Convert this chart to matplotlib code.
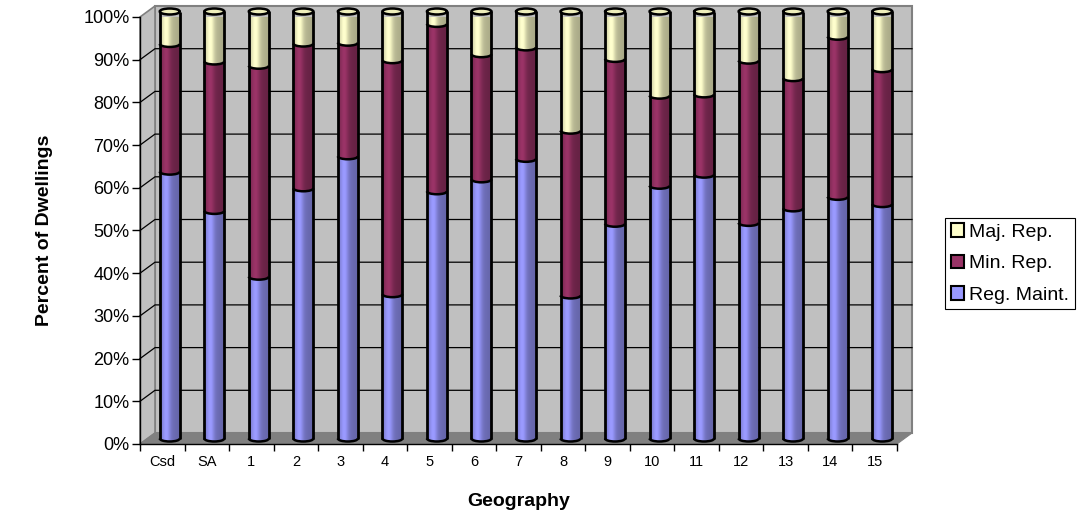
import matplotlib
matplotlib.use("Agg")
import matplotlib.pyplot as plt
import numpy as np
from matplotlib.patches import Polygon, Rectangle, Ellipse, Arc, PathPatch, Patch
from matplotlib.path import Path

plt.rcParams["font.family"] = ["Liberation Sans", "DejaVu Sans"]

geography = ["Csd", "SA", "1", "2", "3", "4", "5", "6", "7", "8",
             "9", "10", "11", "12", "13", "14", "15"]
reg_maint = [62.5, 53.3, 37.9, 58.6, 66.1, 33.8, 57.9, 60.7, 65.5, 33.5,
             50.3, 59.2, 61.8, 50.5, 53.9, 56.6, 54.9]
min_rep = [29.9, 35.0, 49.4, 33.9, 26.6, 54.8, 39.2, 29.3, 26.1, 38.6,
           38.6, 21.1, 18.8, 38.0, 30.5, 37.5, 31.6]
maj_rep = [7.6, 11.7, 12.7, 7.5, 7.3, 11.4, 2.9, 10.0, 8.4, 27.9,
           11.1, 19.7, 19.4, 11.5, 15.6, 5.9, 13.5]

series = [
    ("Reg. Maint.", reg_maint, "#9999ff"),
    ("Min. Rep.", min_rep, "#993366"),
    ("Maj. Rep.", maj_rep, "#ffffcc"),
]

W, H = 1087, 514
fig = plt.figure(figsize=(W / 100, H / 100), dpi=100)

# front plane of the 3d box, in pixels
left, right, top, bottom = 140, 897, 17, 444
ax = fig.add_axes([left / W, 1 - bottom / H, (right - left) / W, (bottom - top) / H])
ax.patch.set_visible(False)

n = len(geography)
px_x = (right - left) / n
px_y = (bottom - top) / 100.0
dx, dy = 15 / px_x, 11 / px_y  # box depth in data units

# walls and floor
ax.add_patch(Rectangle((dx, dy), n, 100, fc="#c0c0c0", ec="#808080", lw=1.5,
                       clip_on=False, zorder=0))
ax.add_patch(Polygon([(0, 0), (dx, dy), (dx, 100 + dy), (0, 100)], closed=True,
                     fc="#c0c0c0", ec="#808080", lw=1.2, clip_on=False, zorder=0))
ax.add_patch(Polygon([(0, 0), (n, 0), (n + dx, dy), (dx, dy)], closed=True,
                     fc="#808080", ec="#808080", lw=0.8, clip_on=False, zorder=0.5))

for v in range(10, 100, 10):
    ax.plot([0, dx, n + dx], [v, v + dy, v + dy], color="black", lw=0.9,
            clip_on=False, zorder=1)

# cylinders
cw = 20 / px_x
eh = 6 / px_y
ox, oy = dx / 2, dy / 2
t = np.linspace(0, 1, 64)
shade = 0.80 + 0.26 * np.exp(-((t - 0.32) / 0.2) ** 2) - 0.14 * t


def body_path(cx, ya, yb):
    ang = np.linspace(0, np.pi, 40)
    arc_x = cx + (cw / 2) * np.cos(ang)
    arc_y = ya - (eh / 2) * np.sin(ang)
    xs = np.concatenate([[cx - cw / 2, cx + cw / 2], arc_x])
    ys = np.concatenate([[yb, yb], arc_y])
    return Path(np.column_stack([xs, ys]), closed=False)


for i in range(n):
    cx = i + 0.5 + ox
    y = oy
    for name, vals, col in series:
        rgb = np.array(matplotlib.colors.to_rgb(col))
        img = np.clip(rgb[None, :] * shade[:, None], 0, 1)[None, :, :]
        ya, yb = y, y + vals[i]
        clip = PathPatch(body_path(cx, ya, yb), transform=ax.transData)
        im = ax.imshow(img, extent=[cx - cw / 2, cx + cw / 2, ya - eh / 2, yb],
                       aspect="auto", interpolation="bilinear", zorder=3)
        im.set_clip_path(clip)
        ax.add_patch(Arc((cx, ya), cw, eh, theta1=180, theta2=360, color="black",
                         lw=1.8, zorder=4, clip_on=False))
        y = yb
    ax.plot([cx - cw / 2, cx - cw / 2], [oy, y], color="black", lw=2,
            zorder=4, clip_on=False, solid_capstyle="butt")
    ax.plot([cx + cw / 2, cx + cw / 2], [oy, y], color="black", lw=2,
            zorder=4, clip_on=False, solid_capstyle="butt")
    ax.add_patch(Ellipse((cx, y), cw, eh, fc="#eeeebb", ec="black", lw=1.8,
                         zorder=5, clip_on=False))

ax.set_xlim(0, n)
ax.set_ylim(0, 100)

for s in ["top", "right"]:
    ax.spines[s].set_visible(False)
for s in ["left", "bottom"]:
    ax.spines[s].set_color("black")
    ax.spines[s].set_linewidth(1)
    ax.spines[s].set_zorder(6)

ax.set_yticks(range(0, 101, 10))
ax.set_yticklabels([f"{v}%" for v in range(0, 101, 10)])
ax.tick_params(axis="y", length=6, width=1, labelsize=13, pad=1.5)
ax.set_xticks(np.arange(n + 1))
ax.set_xticklabels([])
ax.set_xticks(np.arange(n) + 0.5, minor=True)
ax.set_xticklabels(geography, minor=True)
ax.tick_params(axis="x", which="major", length=5, width=1)
ax.tick_params(axis="x", which="minor", length=0, labelsize=10.5, pad=8)

fig.text(45 / W, 1 - 230 / H, "Percent of Dwellings", rotation=90, ha="center",
         va="center", fontsize=14, fontweight="bold")
fig.text(519 / W, 1 - 501 / H, "Geography", ha="center", va="center",
         fontsize=14, fontweight="bold")

handles = [Patch(fc=col, ec="black", lw=1.5, label=name)
           for name, vals, col in reversed(series)]
leg = fig.legend(handles=handles, loc="center left",
                 bbox_to_anchor=(945 / W, 1 - 263.5 / H), frameon=True,
                 fancybox=False, edgecolor="black", framealpha=1, fontsize=14,
                 handlelength=0.7, handleheight=0.7, handletextpad=0.25,
                 labelspacing=0.7, borderpad=0.3, borderaxespad=0)
leg.get_frame().set_linewidth(0.8)

fig.savefig("out.png", dpi=100)
